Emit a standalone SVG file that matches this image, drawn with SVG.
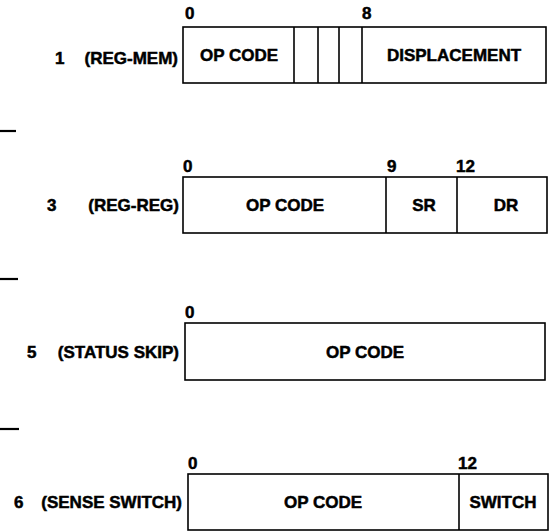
<svg xmlns="http://www.w3.org/2000/svg" width="550" height="532" viewBox="0 0 550 532">
<style>
text{font-family:"Liberation Sans","Arial",sans-serif;font-weight:bold;font-size:17px;fill:#000;stroke:#000;stroke-width:0.5}
.c{text-anchor:middle}
.e{text-anchor:end}
.d{font-size:17px}
.box{fill:#fff;stroke:#000;stroke-width:1.6}
.f{fill:none;stroke:#000;stroke-width:1.6}
.dash{stroke:#000;stroke-width:2.2}
</style>
<rect x="0" y="0" width="550" height="532" fill="#fff"/>
<g id="format1">
<text x="55" y="64">1</text>
<text class="e" x="178" y="64">(REG-MEM)</text>
<text class="d" x="185" y="19">0</text>
<text class="d" x="362" y="19">8</text>
<rect class="box" x="183" y="27" width="363" height="56"/>
<line class="f" x1="294" y1="27" x2="294" y2="83"/>
<line class="f" x1="318" y1="27" x2="318" y2="83"/>
<line class="f" x1="339" y1="27" x2="339" y2="83"/>
<line class="f" x1="362" y1="27" x2="362" y2="83"/>
<text class="c" x="239" y="61">OP CODE</text>
<text class="c" x="454" y="61">DISPLACEMENT</text>
</g>
<g id="format3">
<text x="47" y="211">3</text>
<text class="e" x="179" y="211">(REG-REG)</text>
<text class="d" x="183" y="172">0</text>
<text class="d" x="387" y="172">9</text>
<text class="d" x="456" y="172">12</text>
<rect class="box" x="183" y="177" width="364" height="56"/>
<line class="f" x1="386" y1="177" x2="386" y2="233"/>
<line class="f" x1="457" y1="177" x2="457" y2="233"/>
<text class="c" x="285" y="211">OP CODE</text>
<text class="c" x="424" y="211">SR</text>
<text class="c" x="506" y="211">DR</text>
</g>
<g id="format5">
<text x="27" y="358">5</text>
<text class="e" x="179" y="358">(STATUS SKIP)</text>
<text class="d" x="185" y="318">0</text>
<rect class="box" x="185" y="323" width="360" height="57"/>
<text class="c" x="365" y="358">OP CODE</text>
</g>
<g id="format6">
<text x="14" y="508">6</text>
<text class="e" x="182" y="508">(SENSE SWITCH)</text>
<text class="d" x="188" y="469">0</text>
<text class="d" x="458" y="469">12</text>
<rect class="box" x="188" y="474" width="360" height="56"/>
<line class="f" x1="459" y1="474" x2="459" y2="530"/>
<text class="c" x="323" y="508">OP CODE</text>
<text class="c" x="503" y="508">SWITCH</text>
</g>
<g id="separators">
<line class="dash" x1="0" y1="131" x2="16" y2="131"/>
<line class="dash" x1="0" y1="279" x2="18" y2="279"/>
<line class="dash" x1="0" y1="429" x2="19" y2="429"/>
</g>
</svg>
